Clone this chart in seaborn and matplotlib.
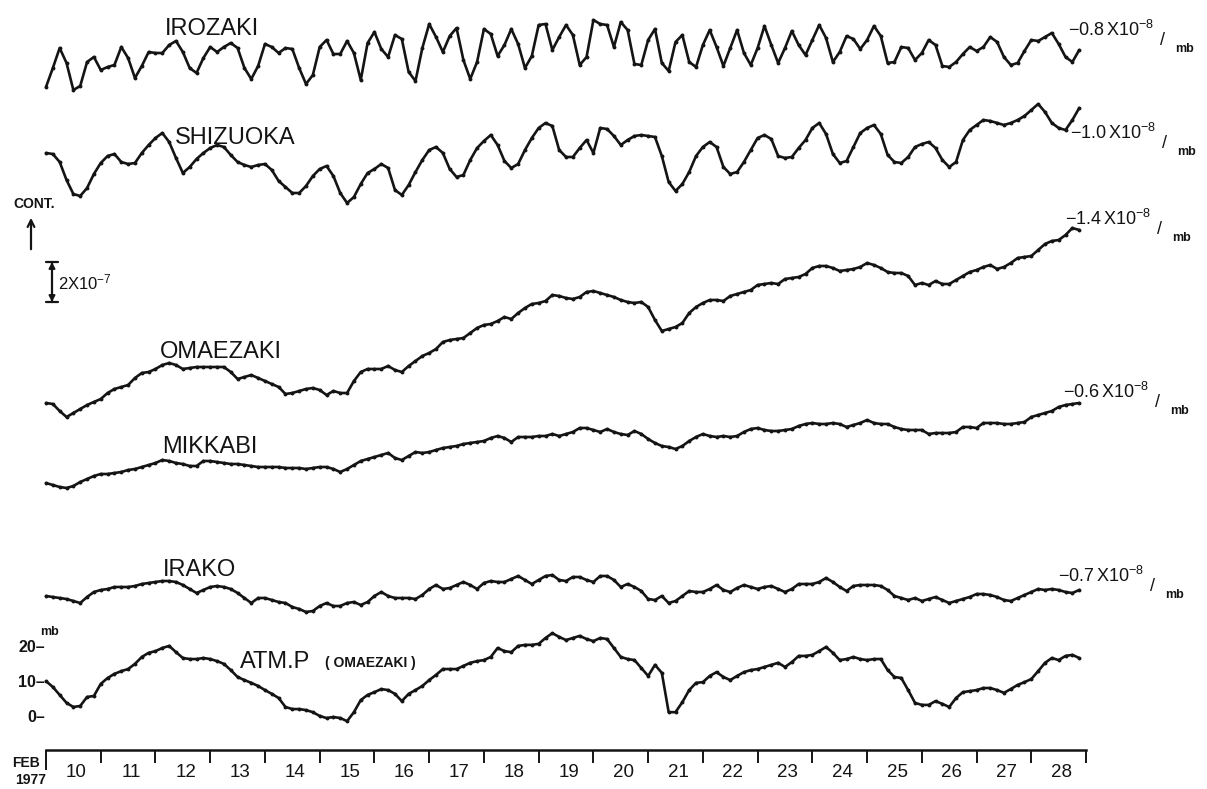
import numpy as np
import matplotlib
matplotlib.use("Agg")
import matplotlib.pyplot as plt
import matplotlib.transforms as mtransforms
import seaborn as sns

# ==========================================
# 1. DATA
# ==========================================

# 3-hourly samples, Feb 10 00h .. Feb 28 21h (8 per day, one row = one day)
START_DAY = 10
SAMPLES_PER_DAY = 8

# Strain, units of 1e-8 (relative, extension up)
IROZAKI = [
    1.5, 11, 21, 13.5, 0, 2, 14, 16.5,
    10, 11.5, 12.5, 21.5, 16, 6, 12, 19,
    18.5, 18.5, 22.5, 24.5, 19, 11, 8.5, 16,
    21.5, 19, 21.5, 23.5, 21, 11, 5.5, 12,
    23, 21.5, 18.5, 21, 20.5, 11, 3, 7.5,
    21.5, 25, 18, 18, 24.5, 18.5, 5, 23.5,
    29, 20.5, 16.5, 27.5, 25.5, 9, 4.5, 21,
    33, 26.5, 19, 27, 31, 15, 5.5, 14,
    30.5, 28, 17, 22.5, 30.5, 23, 11, 17,
    32.5, 33, 20, 26.5, 32.5, 27.5, 12.5, 16.5,
    35, 33, 32.5, 21.5, 34, 30, 13, 12.5,
    25, 30.5, 13.5, 9.5, 24, 27.5, 14, 11.5,
    22.5, 30, 21.5, 12, 21, 30, 18.5, 12.5,
    21, 32, 22.5, 13.5, 21, 29.5, 22.5, 17.5,
    25, 32.5, 26, 14, 19, 27, 25.5, 20.5,
    25, 32, 27, 13.5, 14, 21.5, 21, 15,
    18.5, 25, 22.5, 12, 11.5, 14, 18, 21.5,
    19.5, 21.5, 26.5, 24, 16.5, 12.5, 13.5, 19.5,
    25, 24.5, 26.5, 28.5, 23, 16.5, 14, 20,
]

SHIZUOKA = [
    23.5, 23, 19, 10, 3, 2, 6, 13,
    18.5, 22, 23, 19, 18, 18.5, 23.5, 27.5,
    31, 33.5, 29, 21, 13.5, 16.5, 20.5, 23.5,
    26, 27.5, 26.5, 22.5, 19, 17.5, 16.5, 17.5,
    18, 15, 9.5, 6.5, 3.5, 3.5, 7, 12,
    15.5, 17, 12, 3.5, -1.5, 1.5, 8, 13.5,
    15.5, 18, 16, 5, 2.5, 7.5, 14, 20,
    25, 26.5, 23.5, 15.5, 11.5, 12.5, 20, 26,
    29.5, 32.5, 27.5, 19.5, 16, 18, 25, 31,
    36, 38.5, 37, 25, 21.5, 21.5, 26, 30,
    23.5, 36, 35.5, 32, 27.5, 30, 32, 32.5,
    32, 31.5, 22, 9, 4.5, 8, 14, 22,
    26.5, 29, 26.5, 16.5, 13, 14, 19, 25,
    31, 32.5, 30.5, 22, 21, 21.5, 26, 30,
    36, 38.5, 33, 23, 18.5, 19.5, 26.5, 33.5,
    36, 37.5, 33, 22.5, 19, 18.5, 21.5, 26.5,
    28, 29, 26, 20, 16.5, 19, 30, 35,
    37.5, 40, 39.5, 38.5, 37.5, 38.5, 40, 42,
    45, 48, 44, 38.5, 36, 35, 40, 46,
]

OMAEZAKI = [
    8.5, 8, 4.5, 1.5, 3.5, 5.5, 7.5, 9,
    10.5, 13.5, 15.5, 16.5, 17.5, 21, 23.5, 24,
    25.5, 27.5, 28.5, 27.5, 25.5, 26, 26.5, 26.5,
    26.5, 26.5, 26.5, 24, 20.5, 21.5, 22.5, 21,
    19.5, 18, 16.5, 13, 13.5, 14.5, 15.5, 16,
    15, 12.5, 14.5, 13.5, 13.5, 19.5, 24, 25.5,
    25.5, 25.5, 27, 25, 24, 27, 29.5, 32,
    33.5, 35.5, 39, 40, 40.5, 41, 43.5, 46,
    47.5, 48, 49.5, 51.5, 50.5, 53.5, 56, 58,
    58.5, 59.5, 62.5, 62, 61, 60.5, 61.5, 64,
    64.5, 63.5, 62.5, 61.5, 60, 59, 58.5, 59,
    56.5, 50, 44.5, 45.5, 46.5, 48.5, 53.5, 56.5,
    58.5, 60, 60, 59.5, 62, 63, 64, 65,
    67.5, 68, 68.5, 68, 70.5, 71, 71.5, 73,
    76, 77, 77, 76, 74.5, 75, 75.5, 76.5,
    78.5, 77.5, 76, 74, 73.5, 73.5, 72, 67.5,
    68.5, 67.5, 69.5, 68, 68, 70, 72, 74,
    75, 76.5, 77.5, 75.5, 76.5, 78.5, 81, 81.5,
    82, 85, 88, 89.5, 90, 92.5, 96, 95,
]

MIKKABI = [
    3.5, 2.5, 1.5, 1, 2, 4, 5.5, 7,
    8, 8, 8.5, 9, 10, 10.5, 11.5, 12.5,
    13.5, 15, 14.5, 13.5, 13, 12, 12, 14.5,
    14.5, 14, 13.5, 13, 13, 12.5, 12, 11.5,
    11.5, 11.5, 11.5, 11, 11, 11, 10.5, 11,
    11.5, 11.5, 10.5, 9, 10.5, 12.5, 14.5, 15.5,
    16.5, 17.5, 18.5, 16, 15, 17, 19, 18.5,
    19, 20, 21, 21.5, 22, 23, 23.5, 24,
    24.5, 26, 27, 26, 24, 26.5, 26.5, 26.5,
    27, 27, 28, 27, 28, 29, 31, 31,
    30, 29, 30.5, 29, 28, 27.5, 29.5, 28,
    25.5, 23.5, 22, 21.5, 20.5, 22, 24.5, 26.5,
    28, 27, 26.5, 27, 26.5, 27, 29, 30.5,
    31, 30, 29.5, 29.5, 30, 30.5, 32, 33,
    33.5, 33, 33, 33.5, 33, 31.5, 32.5, 33.5,
    35, 33.5, 33, 33, 31.5, 30.5, 30, 30,
    30, 28, 28.5, 28.5, 28.5, 29, 31.5, 31.5,
    31, 33.5, 33.5, 33.5, 33, 33, 33.5, 34,
    36.5, 37.5, 38.5, 39.5, 41.5, 42.5, 43, 43.5,
]

IRAKO = [
    9.5, 9, 8.5, 8, 7, 6, 9, 11.5,
    12.5, 13, 14, 14, 14, 14.5, 15.5, 16,
    16.5, 17, 17, 16.5, 15, 13, 11, 12.5,
    14, 14.5, 14, 13, 11, 8.5, 6, 8.5,
    8.5, 7.5, 6.5, 6, 4, 3, 1.5, 2,
    4.5, 6, 4.5, 4.5, 6, 6.5, 5, 6.5,
    9.5, 11.5, 9.5, 8.5, 8.5, 8.5, 8, 10,
    13, 15, 13, 13.5, 15, 16.5, 15, 13,
    16, 17, 16.5, 16.5, 18, 19.5, 17.5, 15.5,
    17.5, 19.5, 20, 17.5, 17, 19, 19, 17.5,
    16.5, 19.5, 19.5, 17.5, 14, 15.5, 14, 12,
    8, 7.5, 9.5, 6, 7, 9.5, 12, 11.5,
    11.5, 13, 15, 12.5, 11.5, 13.5, 15, 14,
    13, 14, 14.5, 13, 11.5, 13, 15.5, 15.5,
    15.5, 16.5, 18.5, 16.5, 14, 12, 14.5, 15,
    15, 15, 14.5, 12.5, 9.5, 8.5, 7.5, 8.5,
    7, 8, 9, 7.5, 6, 7, 8, 9,
    10.5, 10.5, 10, 9, 7.5, 7, 8.5, 10,
    11.5, 13, 12.5, 13, 12.5, 11.5, 11, 12.5,
]

# Atmospheric pressure at Omaezaki, mb
ATM_P = [
    10.4, 8.7, 6.4, 4.1, 2.9, 3.2, 5.8, 6.1,
    9.6, 11.3, 12.5, 13.3, 13.9, 15.4, 17.4, 18.6,
    19.1, 20.0, 20.6, 18.8, 17.1, 16.8, 16.8, 17.1,
    16.8, 16.2, 15.4, 13.6, 11.6, 10.7, 9.9, 9.0,
    7.8, 6.7, 5.5, 2.9, 2.3, 2.3, 2.0, 1.4,
    0.3, -0.3, 0.0, -0.3, -1.2, 1.4, 4.9, 6.4,
    7.2, 8.1, 7.8, 6.7, 4.6, 6.7, 7.8, 9.0,
    10.7, 12.2, 13.9, 13.9, 13.9, 14.8, 15.7, 16.2,
    16.5, 17.4, 20.0, 19.1, 18.8, 20.6, 20.9, 20.9,
    21.2, 22.9, 24.3, 23.2, 22.3, 22.9, 23.5, 22.6,
    22.0, 22.9, 22.6, 20.0, 17.4, 16.8, 16.5, 14.2,
    11.9, 15.1, 12.8, 1.4, 1.4, 4.3, 7.8, 9.9,
    10.1, 11.9, 13.0, 11.6, 10.7, 11.9, 13.0, 13.6,
    13.9, 14.5, 15.1, 15.7, 14.5, 15.9, 17.7, 17.7,
    18.0, 19.1, 20.3, 18.6, 16.5, 16.8, 17.4, 16.8,
    16.5, 16.8, 16.8, 13.6, 11.6, 11.3, 7.8, 4.1,
    3.5, 3.5, 4.6, 3.8, 2.9, 5.5, 7.2, 7.5,
    7.8, 8.4, 8.4, 7.8, 7.0, 8.1, 9.3, 10.1,
    11.0, 13.3, 15.7, 17.1, 16.5, 17.7, 18.0, 17.1,
]

STATIONS = ['IROZAKI', 'SHIZUOKA', 'OMAEZAKI', 'MIKKABI', 'IRAKO']
STRAIN_SERIES = [IROZAKI, SHIZUOKA, OMAEZAKI, MIKKABI, IRAKO]
# barometric response of each site, x1e-8 per mb
PRESSURE_COEF = [-0.8, -1.0, -1.4, -0.6, -0.7]

DAY_LABELS = [str(d) for d in range(10, 29)]
ATM_TICKS = [0, 10, 20]
SCALE_BAR = 20  # 2x10^-7 in units of 1e-8

# ==========================================
# 2. LAYOUT (pixels of a 1207x789 page)
# ==========================================
FIG_W, FIG_H = 1207, 789
X0_PX = 46            # Feb 10 00h
PX_PER_DAY = 54.74
PX_PER_UNIT = 2.0     # strain: px per 1e-8
PX_PER_MB = 3.45

BASE_PX = [90, 200, 420, 490, 615]   # zero level of each strain trace
ATM_ZERO_PX = 717
AXIS_PX = 750
BAR_BOTTOM_PX = 302

NAME_POS = [(165, 35), (175, 144), (160, 358), (162, 453), (163, 576)]
COEF_POS = [(1068, 36), (1070, 139), (1065, 225), (1063, 398), (1058, 582)]

INK = '#141414'

sns.set_style('white')
plt.rcParams['font.family'] = ['Liberation Sans', 'DejaVu Sans']
plt.rcParams['mathtext.fontset'] = 'custom'
plt.rcParams['mathtext.rm'] = 'Liberation Sans'
plt.rcParams['mathtext.it'] = 'Liberation Sans:italic'
plt.rcParams['mathtext.bf'] = 'Liberation Sans:bold'
plt.rcParams['text.color'] = INK


def level(px):
    return -px / PX_PER_UNIT


def fig_xy(x, y):
    return x / FIG_W, 1 - y / FIG_H


# ==========================================
# 3. DRAWING
# ==========================================
fig = plt.figure(figsize=(FIG_W / 100, FIG_H / 100), dpi=100)
fig.patch.set_facecolor('white')

ax = fig.add_axes([0, 0, 1, 1])
ax.set_xlim(START_DAY - X0_PX / PX_PER_DAY, START_DAY + (FIG_W - X0_PX) / PX_PER_DAY)
ax.set_ylim(-FIG_H / PX_PER_UNIT, 0)
ax.axis('off')

days = START_DAY + np.arange(len(IROZAKI)) / SAMPLES_PER_DAY
line_kw = dict(color=INK, lw=1.9, marker='o', markersize=2.8, markeredgewidth=0,
               estimator=None, legend=False)

# --- strain traces ---
for values, base in zip(STRAIN_SERIES, BASE_PX):
    sns.lineplot(x=days, y=level(base) + np.asarray(values, dtype=float), ax=ax, **line_kw)

# --- pressure trace ---
atm_scale = PX_PER_MB / PX_PER_UNIT
sns.lineplot(x=days, y=level(ATM_ZERO_PX) + np.asarray(ATM_P) * atm_scale, ax=ax, **line_kw)

# --- station names and barometric coefficients ---
for name, (x, y) in zip(STATIONS, NAME_POS):
    fig.text(*fig_xy(x, y), name, fontsize=17, va='baseline')

for coef, (x, y) in zip(PRESSURE_COEF, COEF_POS):
    fig.text(*fig_xy(x, y), rf"${coef:.1f}\,\mathrm{{X}}10^{{-8}}$", fontsize=13, va='baseline')
    fig.text(*fig_xy(x + 92, y + 9), "/", fontsize=13, va='baseline')
    fig.text(*fig_xy(x + 107, y + 16), "mb", fontsize=9, weight='bold', va='baseline')

fig.text(*fig_xy(240, 668), "ATM.P", fontsize=17, va='baseline')
fig.text(*fig_xy(325, 667), "( OMAEZAKI )", fontsize=10, weight='bold', va='baseline')

# --- pressure scale on the left ---
blend = mtransforms.blended_transform_factory(fig.transFigure, ax.transData)
for t in ATM_TICKS:
    ax.text(45 / FIG_W, level(ATM_ZERO_PX) + t * atm_scale, f"{t}\u2013",
            transform=blend, ha='right', va='center', fontsize=11.5, weight='bold')
fig.text(*fig_xy(40, 635), "mb", fontsize=9, weight='bold', va='baseline')

# --- CONT. arrow and strain scale bar ---
fig.text(*fig_xy(13, 208), "CONT.", fontsize=10, weight='bold', va='baseline')
ax.annotate('', xy=fig_xy(31, 215), xytext=fig_xy(31, 252), xycoords='figure fraction',
            arrowprops=dict(arrowstyle='->', lw=1.6, color=INK, mutation_scale=12))

bar_x = 52 / FIG_W
bar_lo = level(BAR_BOTTOM_PX)
ax.annotate('', xy=(bar_x, bar_lo + SCALE_BAR), xytext=(bar_x, bar_lo), xycoords=blend,
            arrowprops=dict(arrowstyle='|-|, widthA=0.45, widthB=0.45', lw=1.6, color=INK,
                            shrinkA=0, shrinkB=0))
ax.annotate('', xy=(bar_x, bar_lo + SCALE_BAR), xytext=(bar_x, bar_lo), xycoords=blend,
            arrowprops=dict(arrowstyle='<|-|>, head_length=0.35, head_width=0.18', lw=1.4,
                            color=INK, shrinkA=0, shrinkB=0))
fig.text(*fig_xy(58, 289), r"$2\mathrm{X}10^{-7}$", fontsize=12, va='baseline')

# --- time axis ---
edges = START_DAY + np.arange(len(DAY_LABELS) + 1)
ax_t = fig.add_axes([0, 1 - AXIS_PX / FIG_H, 1, 0.02])
ax_t.set_xlim(ax.get_xlim())
ax_t.patch.set_alpha(0)
for s in ['top', 'left', 'right']:
    ax_t.spines[s].set_visible(False)
ax_t.spines['bottom'].set_bounds(edges[0], edges[-1])
ax_t.spines['bottom'].set_linewidth(1.8)
ax_t.spines['bottom'].set_color(INK)
ax_t.set_yticks([])
ax_t.set_xticks(edges)
ax_t.set_xticklabels([])
ax_t.tick_params(axis='x', which='major', bottom=True, direction='out', length=9.5,
                 width=1.4, color=INK)
ax_t.set_xticks(edges[:-1] + 0.55, minor=True)
ax_t.set_xticklabels(DAY_LABELS, minor=True, fontsize=13.5, color=INK)
ax_t.tick_params(axis='x', which='minor', bottom=True, length=0, pad=10)
ax_t.xaxis.get_major_ticks()[0].tick1line.set_markersize(14.5)

fig.text(*fig_xy(12, 767), "FEB", fontsize=10, weight='bold', va='baseline')
fig.text(*fig_xy(15, 784), "1977", fontsize=10, weight='bold', va='baseline')

plt.savefig('out.png', dpi=100, facecolor='white')
